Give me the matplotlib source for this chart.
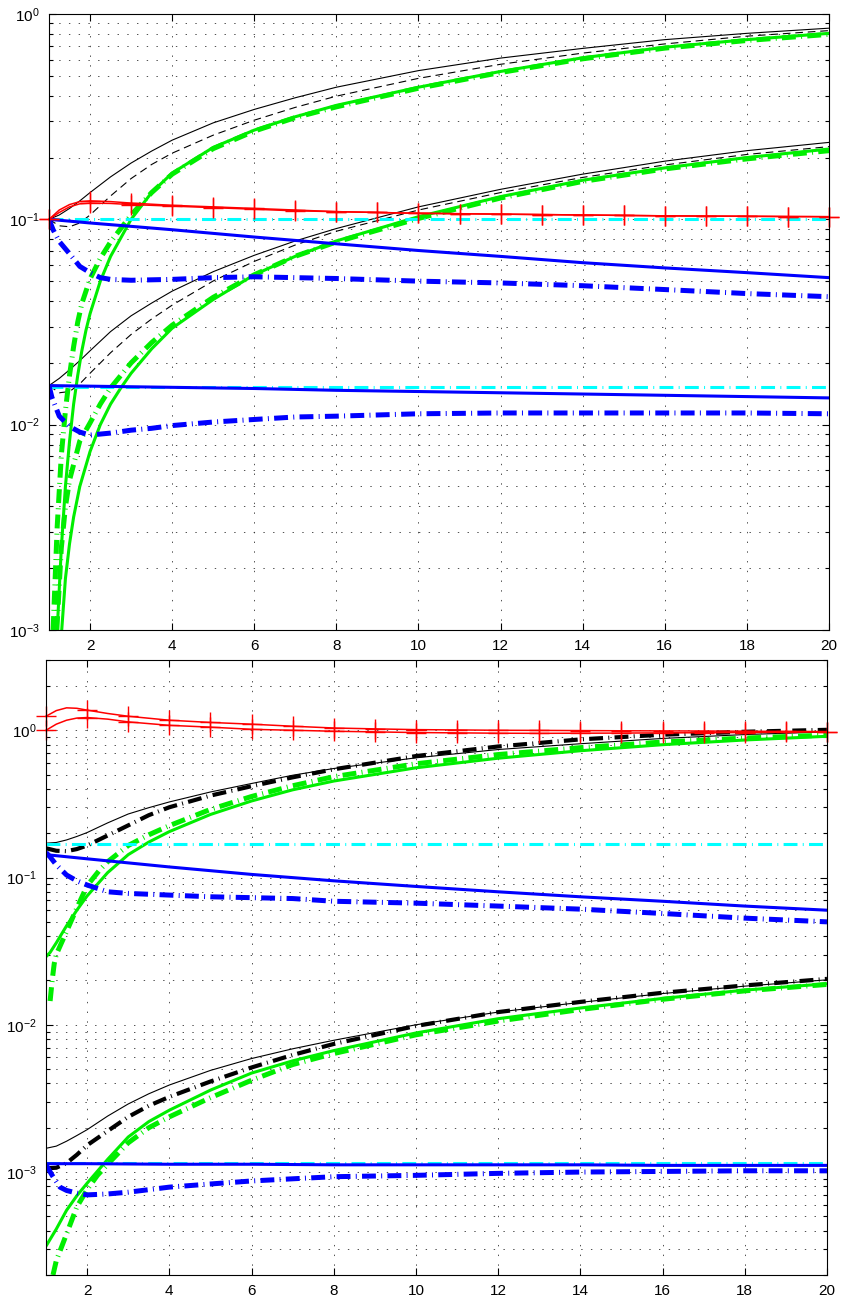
import numpy as np
import matplotlib
matplotlib.use('Agg')
import matplotlib.pyplot as plt
from matplotlib.ticker import LogLocator, FixedLocator, NullFormatter, LogFormatterSciNotation

plt.rcParams['font.family'] = ['Liberation Sans', 'DejaVu Sans']
plt.rcParams['mathtext.fontset'] = 'custom'
plt.rcParams['mathtext.rm'] = 'Liberation Sans'
plt.rcParams['mathtext.it'] = 'Liberation Sans:italic'
plt.rcParams['mathtext.bf'] = 'Liberation Sans:bold'
plt.rcParams['lines.scale_dashes'] = False
plt.rcParams['font.size'] = 11

# ---------------- data: top panel ----------------
x_std = [1, 1.25, 1.5, 1.75, 2, 2.5, 3, 3.5, 4, 5, 6, 7, 8, 10, 12, 14, 16, 18, 20]
top_black_solid_1 = [0.100, 0.105, 0.113, 0.123, 0.135, 0.161, 0.188, 0.215, 0.243, 0.295, 0.343, 0.391, 0.44, 0.53, 0.61, 0.68, 0.75, 0.805, 0.853]
top_black_dash_1 = [0.100, 0.093, 0.092, 0.096, 0.105, 0.130, 0.158, 0.185, 0.21, 0.257, 0.304, 0.351, 0.398, 0.486, 0.569, 0.645, 0.715, 0.78, 0.83]
top_black_solid_2 = [0.0155, 0.0168, 0.0185, 0.0205, 0.0229, 0.0284, 0.0339, 0.0391, 0.0447, 0.0556, 0.0668, 0.0785, 0.0902, 0.115, 0.140, 0.166, 0.192, 0.216, 0.237]
top_black_dash_2 = [0.0155, 0.0143, 0.0145, 0.0158, 0.0178, 0.0224, 0.0275, 0.0327, 0.0382, 0.0501, 0.0624, 0.075, 0.0875, 0.111, 0.135, 0.160, 0.184, 0.207, 0.226]

x_gs1 = [1.2, 1.3, 1.4, 1.5, 1.6, 1.7, 1.8, 1.9, 2.0, 2.25, 2.5, 3, 3.5, 4, 5, 6, 7, 8, 10, 12, 14, 16, 18, 20]
top_green_solid_1 = [0.001, 0.0025, 0.005, 0.0083, 0.0126, 0.0174, 0.0229, 0.0288, 0.0347, 0.050, 0.066, 0.10, 0.135, 0.168, 0.224, 0.272, 0.316, 0.359, 0.44, 0.525, 0.612, 0.689, 0.75, 0.805]
x_gd1 = [1.1, 1.2, 1.3, 1.4, 1.5, 1.6, 1.7, 1.8, 2.0, 2.25, 2.5, 3, 3.5, 4, 5, 6, 7, 8, 10, 12, 14, 16, 18, 20]
top_green_dd_1 = [0.001, 0.0032, 0.0071, 0.0117, 0.0174, 0.024, 0.0316, 0.0389, 0.0513, 0.0646, 0.0776, 0.105, 0.135, 0.166, 0.221, 0.269, 0.313, 0.353, 0.435, 0.519, 0.605, 0.682, 0.743, 0.796]
x_gs2 = [1.31, 1.4, 1.5, 1.6, 1.75, 2.0, 2.25, 2.5, 2.75, 3.0, 3.5, 4, 5, 6, 7, 8, 10, 12, 14, 16, 18, 20]
top_green_solid_2 = [0.001, 0.00178, 0.00263, 0.00355, 0.005, 0.0074, 0.01, 0.0126, 0.0151, 0.0178, 0.0234, 0.0295, 0.0407, 0.0537, 0.0661, 0.0785, 0.103, 0.129, 0.155, 0.178, 0.20, 0.22]
x_gd2 = [1.19, 1.3, 1.4, 1.5, 1.75, 2.0, 2.25, 2.5, 3, 3.5, 4, 5, 6, 7, 8, 10, 12, 14, 16, 18, 20]
top_green_dd_2 = [0.001, 0.00251, 0.00398, 0.00537, 0.00832, 0.0102, 0.0126, 0.0151, 0.02, 0.0251, 0.0305, 0.0417, 0.0537, 0.0661, 0.0776, 0.101, 0.127, 0.153, 0.176, 0.197, 0.216]

x_red = [1, 1.25, 1.5, 1.75, 2, 2.5, 3, 4, 5, 6, 7, 8, 9, 10, 11, 12, 13, 14, 15, 16, 17, 18, 19, 20]
top_red_a = [0.1, 0.111, 0.118, 0.122, 0.123, 0.122, 0.12, 0.117, 0.115, 0.113, 0.111, 0.109, 0.108, 0.107, 0.1065, 0.106, 0.1055, 0.105, 0.1045, 0.104, 0.1037, 0.1035, 0.1032, 0.103]
top_red_b = [0.1, 0.108, 0.115, 0.119, 0.120, 0.1195, 0.118, 0.116, 0.114, 0.112, 0.110, 0.109, 0.108, 0.107, 0.1065, 0.106, 0.1055, 0.105, 0.1045, 0.104, 0.1037, 0.1035, 0.1032, 0.103]

x_const = [1, 20]
top_cyan_1 = [0.1, 0.1]
top_cyan_2 = [0.0153, 0.0153]

x_bl = [1, 2, 4, 6, 8, 10, 12, 14, 16, 18, 20]
top_blue_solid_1 = [0.1, 0.096, 0.089, 0.082, 0.076, 0.0705, 0.066, 0.0615, 0.058, 0.055, 0.052]
top_blue_solid_2 = [0.0155, 0.0154, 0.0152, 0.0150, 0.0147, 0.0145, 0.0143, 0.0141, 0.0139, 0.0137, 0.0135]
x_bd1 = [1, 1.1, 1.25, 1.5, 1.75, 2, 2.25, 2.5, 3, 4, 5, 6, 7, 8, 10, 12, 14, 16, 18, 20]
top_blue_dd_1 = [0.1, 0.089, 0.078, 0.068, 0.059, 0.055, 0.052, 0.051, 0.0505, 0.051, 0.052, 0.0525, 0.052, 0.0515, 0.050, 0.049, 0.0475, 0.0455, 0.0435, 0.042]
x_bd2 = [1, 1.07, 1.25, 1.5, 1.75, 2, 2.5, 3, 3.5, 4, 5, 6, 7, 8, 10, 12, 14, 16, 18, 20]
top_blue_dd_2 = [0.0155, 0.0136, 0.011, 0.0098, 0.0092, 0.0089, 0.0091, 0.0094, 0.0096, 0.0099, 0.0103, 0.0106, 0.0109, 0.011, 0.0113, 0.0114, 0.0114, 0.0114, 0.0114, 0.0113]

# ---------------- data: bottom panel ----------------
x_red2 = [1, 1.25, 1.5, 1.75, 2, 2.5, 3, 4, 5, 6, 7, 8, 9, 10, 11, 12, 13, 14, 15, 16, 17, 18, 19, 20]
bot_red_a = [1.245, 1.36, 1.42, 1.41, 1.37, 1.30, 1.245, 1.17, 1.13, 1.10, 1.065, 1.036, 1.022, 1.01, 1.005, 1.0, 0.998, 0.995, 0.992, 0.99, 0.988, 0.985, 0.982, 0.98]
bot_red_b = [1.0, 1.1, 1.17, 1.21, 1.22, 1.19, 1.14, 1.08, 1.05, 1.015, 1.0, 0.985, 0.975, 0.965, 0.96, 0.955, 0.953, 0.955, 0.957, 0.96, 0.962, 0.965, 0.97, 0.975]

bot_black_solid_1 = [0.171, 0.173, 0.18, 0.19, 0.202, 0.235, 0.27, 0.298, 0.326, 0.381, 0.435, 0.495, 0.55, 0.65, 0.74, 0.81, 0.88, 0.935, 0.975]
bot_black_dd_1 = [0.158, 0.152, 0.151, 0.156, 0.165, 0.193, 0.226, 0.265, 0.30, 0.36, 0.417, 0.479, 0.543, 0.668, 0.776, 0.867, 0.933, 0.977, 1.007]
bot_black_solid_2 = [0.00145, 0.0015, 0.00162, 0.00177, 0.00194, 0.0024, 0.0029, 0.0034, 0.0039, 0.0049, 0.0059, 0.00687, 0.00785, 0.0100, 0.0122, 0.0142, 0.0163, 0.0183, 0.0202]
bot_black_dd_2 = [0.00106, 0.00107, 0.00115, 0.00131, 0.00152, 0.0019, 0.00237, 0.00282, 0.00324, 0.00412, 0.00513, 0.00624, 0.00741, 0.00982, 0.0122, 0.0143, 0.0165, 0.0185, 0.0205]

x_gs3 = [1, 1.1, 1.25, 1.5, 1.75, 2, 2.5, 3, 3.5, 4, 5, 6, 7, 8, 10, 12, 14, 16, 18, 20]
bot_green_solid_1 = [0.029, 0.031, 0.036, 0.047, 0.06, 0.075, 0.108, 0.143, 0.174, 0.205, 0.268, 0.331, 0.394, 0.452, 0.556, 0.646, 0.726, 0.798, 0.859, 0.91]
x_gd3 = [1.1, 1.15, 1.2, 1.25, 1.5, 1.75, 2, 2.3, 2.5, 3, 3.5, 4, 5, 6, 7, 8, 10, 12, 14, 16, 18, 20]
bot_green_dd_1 = [0.0145, 0.02, 0.026, 0.03, 0.043, 0.062, 0.088, 0.112, 0.128, 0.165, 0.195, 0.225, 0.29, 0.355, 0.42, 0.484, 0.592, 0.684, 0.762, 0.832, 0.885, 0.927]
x_gs4 = [1, 1.25, 1.5, 1.75, 2, 2.5, 3, 3.5, 4, 5, 6, 7, 8, 10, 12, 14, 16, 18, 20]
bot_green_solid_2 = [0.000314, 0.00041, 0.00055, 0.00069, 0.00084, 0.00122, 0.00173, 0.0022, 0.00263, 0.0036, 0.0047, 0.00569, 0.00668, 0.0088, 0.011, 0.013, 0.0151, 0.0172, 0.019]
x_gd4 = [1.17, 1.25, 1.5, 1.75, 2.0, 2.25, 2.5, 3, 3.5, 4, 5, 6, 7, 8, 10, 12, 14, 16, 18, 20]
bot_green_dd_2 = [0.0002, 0.00025, 0.00038, 0.00058, 0.00076, 0.00095, 0.00113, 0.00158, 0.002, 0.00237, 0.0032, 0.0042, 0.00537, 0.00638, 0.00855, 0.0106, 0.0127, 0.0149, 0.017, 0.0188]

bot_cyan_1 = [0.169, 0.169]
bot_cyan_2 = [0.00116, 0.00116]

bot_blue_solid_1 = [0.143, 0.134, 0.118, 0.105, 0.095, 0.087, 0.08, 0.074, 0.069, 0.064, 0.06]
bot_blue_solid_2 = [0.00114, 0.00114, 0.00113, 0.00113, 0.00112, 0.00112, 0.00112, 0.00112, 0.00111, 0.00111, 0.00111]
x_bd3 = [1, 1.1, 1.25, 1.5, 1.75, 2, 2.5, 3, 4, 5, 6, 7, 8, 10, 12, 14, 16, 18, 20]
bot_blue_dd_1 = [0.148, 0.138, 0.122, 0.104, 0.095, 0.089, 0.08, 0.078, 0.076, 0.074, 0.073, 0.072, 0.069, 0.067, 0.064, 0.061, 0.057, 0.053, 0.05]
x_bd4 = [1, 1.15, 1.34, 1.5, 1.75, 2, 2.5, 3, 4, 5, 6, 7, 8, 10, 12, 14, 16, 18, 20]
bot_blue_dd_2 = [0.00112, 0.00095, 0.00079, 0.00075, 0.00072, 0.0007, 0.00071, 0.00073, 0.00079, 0.00083, 0.00087, 0.0009, 0.00093, 0.00095, 0.00098, 0.001, 0.00101, 0.00102, 0.00102]

x_ticks = [2, 4, 6, 8, 10, 12, 14, 16, 18, 20]

# ---------------- styles ----------------
BLACK = 'k'
GREEN = '#00ee00'
CYAN = '#00ffff'
BLUE = '#0000ff'
RED = '#ff0000'
DASHDOT = (0, (10, 3.8, 0.7, 3.8))
DASH = (0, (5.5, 3.5))

fig = plt.figure(figsize=(8.43, 13.06), dpi=100)
ax1 = fig.add_axes([49 / 843, 1 - 630 / 1306, 780 / 843, 616 / 1306])
ax2 = fig.add_axes([46 / 843, 1 - 1275 / 1306, 781 / 843, 615 / 1306])


def style_axes(ax, ylim):
    ax.set_yscale('log')
    ax.set_xlim(1, 20)
    ax.set_ylim(*ylim)
    ax.xaxis.set_major_locator(FixedLocator(x_ticks))
    ax.yaxis.set_major_locator(LogLocator(base=10, numticks=20))
    ax.yaxis.set_minor_locator(LogLocator(base=10, subs=np.arange(2, 10), numticks=50))
    ax.yaxis.set_minor_formatter(NullFormatter())
    ax.yaxis.set_major_formatter(LogFormatterSciNotation())
    ax.tick_params(which='both', direction='in', top=True, right=True, width=0.8)
    ax.tick_params(which='major', length=5, labelsize=11, pad=6.5)
    ax.tick_params(which='minor', length=3)
    ax.grid(True, which='major', axis='both', linestyle=(0, (1, 6)), color='#333333', linewidth=0.6)
    ax.grid(True, which='minor', axis='y', linestyle=(0, (1, 6)), color='#333333', linewidth=0.6)
    for s in ax.spines.values():
        s.set_linewidth(0.8)
        s.set_zorder(5)


def red_line(ax, x, y):
    xi = np.asarray(x)
    idx = [i for i, v in enumerate(xi) if abs(v - round(v)) < 1e-9]
    ax.plot(x, y, color=RED, lw=1.1, marker='+', markersize=14, markeredgewidth=1.0,
            markevery=idx, clip_on=False, zorder=4)


# ---- top panel ----
style_axes(ax1, (1e-3, 1))
ax1.plot(x_std, top_black_solid_1, color=BLACK, lw=0.8)
ax1.plot(x_std, top_black_dash_1, color=BLACK, lw=0.8, linestyle=DASH)
ax1.plot(x_std, top_black_solid_2, color=BLACK, lw=0.8)
ax1.plot(x_std, top_black_dash_2, color=BLACK, lw=0.8, linestyle=DASH)
ax1.plot(x_gs1, top_green_solid_1, color=GREEN, lw=2.2)
ax1.plot(x_gd1, top_green_dd_1, color=GREEN, lw=3.6, linestyle=DASHDOT)
ax1.plot(x_gs2, top_green_solid_2, color=GREEN, lw=2.2)
ax1.plot(x_gd2, top_green_dd_2, color=GREEN, lw=3.6, linestyle=DASHDOT)
ax1.plot(x_const, top_cyan_1, color=CYAN, lw=2.2, linestyle=DASHDOT)
ax1.plot(x_const, top_cyan_2, color=CYAN, lw=2.2, linestyle=DASHDOT)
ax1.plot(x_bl, top_blue_solid_1, color=BLUE, lw=2.2)
ax1.plot(x_bl, top_blue_solid_2, color=BLUE, lw=2.2)
ax1.plot(x_bd1, top_blue_dd_1, color=BLUE, lw=3.6, linestyle=DASHDOT)
ax1.plot(x_bd2, top_blue_dd_2, color=BLUE, lw=3.6, linestyle=DASHDOT)
red_line(ax1, x_red, top_red_a)
red_line(ax1, x_red, top_red_b)

# ---- bottom panel ----
style_axes(ax2, (2e-4, 3))
ax2.plot(x_std, bot_black_solid_1, color=BLACK, lw=0.8)
ax2.plot(x_std, bot_black_dd_1, color=BLACK, lw=3.0, linestyle=DASHDOT)
ax2.plot(x_std, bot_black_solid_2, color=BLACK, lw=0.8)
ax2.plot(x_std, bot_black_dd_2, color=BLACK, lw=3.0, linestyle=DASHDOT)
ax2.plot(x_gs3, bot_green_solid_1, color=GREEN, lw=2.2)
ax2.plot(x_gd3, bot_green_dd_1, color=GREEN, lw=3.6, linestyle=DASHDOT)
ax2.plot(x_gs4, bot_green_solid_2, color=GREEN, lw=2.2)
ax2.plot(x_gd4, bot_green_dd_2, color=GREEN, lw=3.6, linestyle=DASHDOT)
ax2.plot(x_const, bot_cyan_1, color=CYAN, lw=2.2, linestyle=DASHDOT)
ax2.plot(x_const, bot_cyan_2, color=CYAN, lw=2.2, linestyle=DASHDOT)
ax2.plot(x_bl, bot_blue_solid_1, color=BLUE, lw=2.2)
ax2.plot(x_bl, bot_blue_solid_2, color=BLUE, lw=2.2)
ax2.plot(x_bd3, bot_blue_dd_1, color=BLUE, lw=3.6, linestyle=DASHDOT)
ax2.plot(x_bd4, bot_blue_dd_2, color=BLUE, lw=3.6, linestyle=DASHDOT)
red_line(ax2, x_red2, bot_red_a)
red_line(ax2, x_red2, bot_red_b)

fig.savefig('out.png', dpi=100)
